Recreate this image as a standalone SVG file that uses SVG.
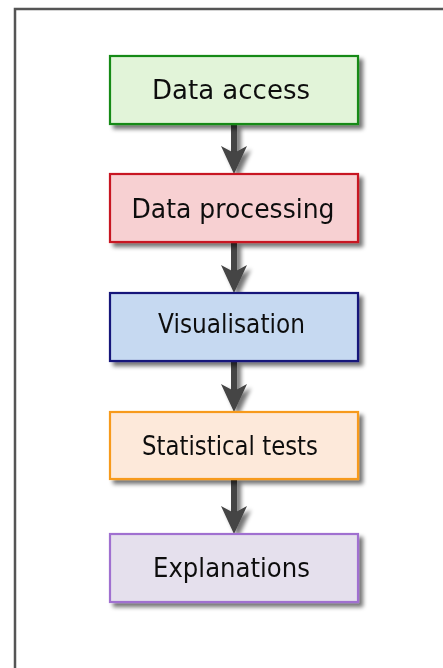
<svg xmlns="http://www.w3.org/2000/svg" width="443" height="668" viewBox="0 0 443 668">
<defs>
<filter id="sh" x="-20%" y="-20%" width="150%" height="160%">
<feGaussianBlur in="SourceAlpha" stdDeviation="2"/>
<feOffset dx="4" dy="4" result="b"/>
<feComponentTransfer><feFuncA type="linear" slope="0.55"/></feComponentTransfer>
<feMerge><feMergeNode/><feMergeNode in="SourceGraphic"/></feMerge>
</filter>
<path id="head" d="M0 0 L-13 -28 L0 -21 L13 -28 Z"/>
</defs>
<style>
.box{stroke-width:2.2}
.lbl{font-family:"DejaVu Sans","Liberation Sans",sans-serif;font-size:26px;fill:#111;text-anchor:middle}
.conn{stroke:#444;stroke-width:6;fill:none}
.hd{fill:#444}
</style>
<rect x="0" y="0" width="443" height="668" fill="#fff"/>
<path d="M15 680 V9 H460" fill="none" stroke="#555" stroke-width="2.5"/>
<g id="connectors" filter="url(#sh)">
<path class="conn" d="M234 124 V154"/>
<use href="#head" class="hd" x="234" y="174"/>
<path class="conn" d="M234 242 V273"/>
<use href="#head" class="hd" x="234" y="293"/>
<path class="conn" d="M234 361 V392"/>
<use href="#head" class="hd" x="234" y="412"/>
<path class="conn" d="M234 479 V514"/>
<use href="#head" class="hd" x="234" y="534"/>
</g>
<g id="n1" filter="url(#sh)">
<rect class="box" x="110" y="56" width="248" height="68" fill="#e2f4d9" stroke="#168a16"/>
<text class="lbl" x="231" y="99" textLength="158" lengthAdjust="spacingAndGlyphs">Data access</text>
</g>
<g id="n2" filter="url(#sh)">
<rect class="box" x="110" y="174" width="248" height="68" fill="#f7d0d2" stroke="#c81820"/>
<text class="lbl" x="233" y="218" textLength="203" lengthAdjust="spacingAndGlyphs">Data processing</text>
</g>
<g id="n3" filter="url(#sh)">
<rect class="box" x="110" y="293" width="248" height="68" fill="#c6d9f1" stroke="#14167a"/>
<text class="lbl" x="231.5" y="333" textLength="147" lengthAdjust="spacingAndGlyphs">Visualisation</text>
</g>
<g id="n4" filter="url(#sh)">
<rect class="box" x="110" y="412" width="248" height="67" fill="#fde9da" stroke="#f79a1e"/>
<text class="lbl" x="230" y="455" textLength="176" lengthAdjust="spacingAndGlyphs">Statistical tests</text>
</g>
<g id="n5" filter="url(#sh)">
<rect class="box" x="110" y="534" width="248" height="68" fill="#e5e0ed" stroke="#a070d0"/>
<text class="lbl" x="231.5" y="577" textLength="157" lengthAdjust="spacingAndGlyphs">Explanations</text>
</g>
</svg>
